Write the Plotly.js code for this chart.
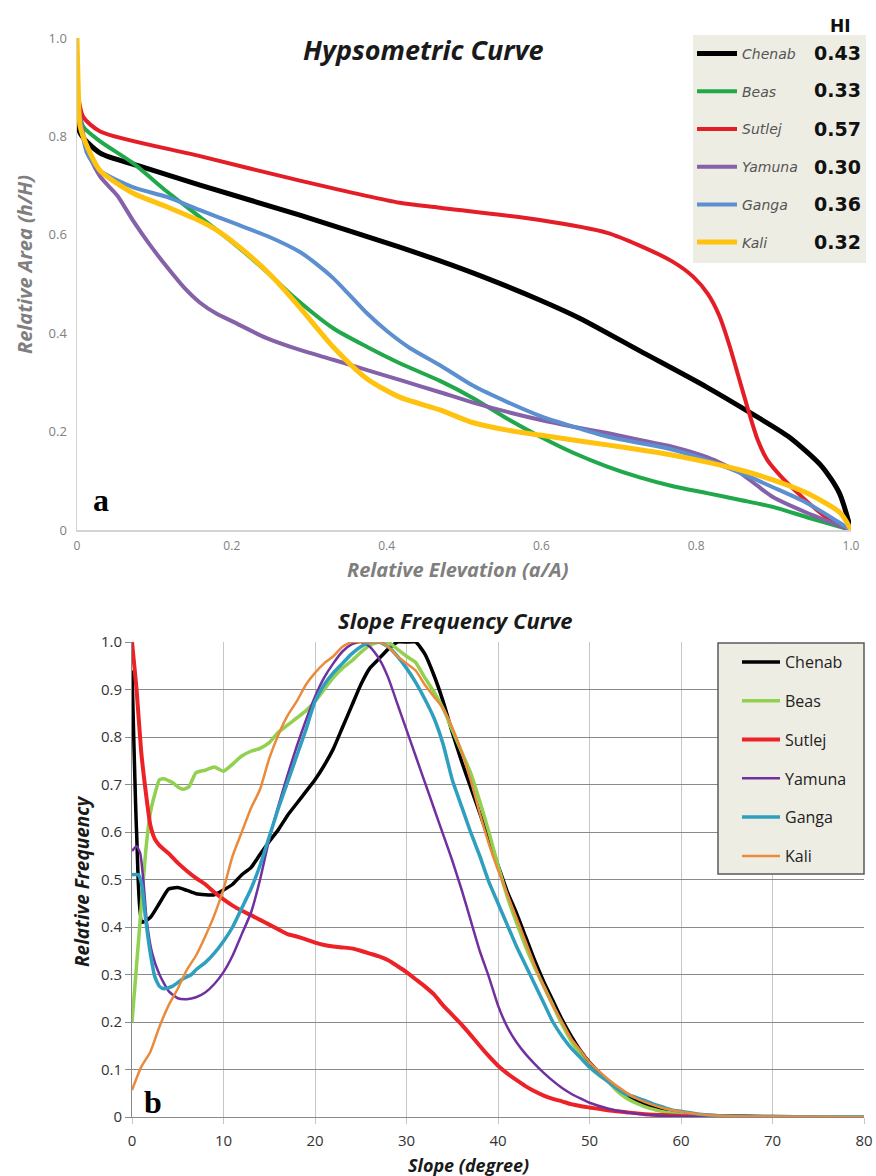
<!DOCTYPE html>
<html><head><meta charset="utf-8">
<script src="https://cdn.plot.ly/plotly-3.0.1.min.js"></script>
<style>html,body{margin:0;padding:0;background:#fff}#chart{width:876px;height:1176px}</style>
</head><body><div id="chart"></div>
<script>
// ---------- Panel a : Hypsometric curve ----------
const basinNames = ['Chenab','Beas','Sutlej','Yamuna','Ganga','Kali'];
const hiValues = ['0.43','0.33','0.57','0.30','0.36','0.32'];
const hypsoColors = ['#000000','#21A84A','#E31E26','#8461A8','#5B8FD0','#FFC20E'];

const chenabHx = [0,0.004,0.03,0.08,0.159,0.288,0.417,0.469,0.524,0.597,0.65,0.726,0.813,0.868,0.92,0.963,0.985,1.0];
const chenabHy = [0.88,0.807,0.766,0.74,0.701,0.64,0.575,0.547,0.515,0.468,0.43,0.365,0.291,0.24,0.189,0.128,0.075,0.0];

const beasHx = [0,0.008,0.03,0.072,0.116,0.159,0.202,0.245,0.279,0.331,0.375,0.417,0.469,0.512,0.556,0.598,0.641,0.685,0.727,0.77,0.814,0.857,0.899,0.943,1.0];
const beasHy = [0.88,0.82,0.79,0.746,0.688,0.636,0.583,0.525,0.475,0.41,0.372,0.339,0.303,0.268,0.226,0.19,0.157,0.129,0.107,0.089,0.075,0.061,0.047,0.026,0];

const sutlejHx = [0,0.008,0.03,0.159,0.288,0.417,0.469,0.598,0.685,0.727,0.77,0.796,0.815,0.83,0.843,0.855,0.867,0.879,0.892,0.91,0.93,0.955,0.98,1.0];
const sutlejHy = [0.9,0.84,0.81,0.76,0.71,0.665,0.655,0.63,0.604,0.578,0.545,0.515,0.48,0.435,0.375,0.31,0.245,0.185,0.142,0.108,0.077,0.042,0.013,0];

const yamunaHx = [0,0.013,0.03,0.052,0.072,0.094,0.116,0.14,0.159,0.18,0.202,0.245,0.288,0.331,0.375,0.417,0.469,0.512,0.556,0.598,0.641,0.685,0.727,0.77,0.814,0.857,0.879,0.899,0.943,1.0];
const yamunaHy = [0.88,0.772,0.718,0.68,0.63,0.58,0.535,0.49,0.462,0.44,0.423,0.39,0.366,0.346,0.325,0.305,0.28,0.259,0.24,0.224,0.21,0.197,0.183,0.169,0.148,0.116,0.09,0.067,0.035,0];

const gangaHx = [0,0.013,0.03,0.072,0.116,0.159,0.202,0.245,0.288,0.31,0.331,0.352,0.375,0.4,0.43,0.469,0.512,0.556,0.598,0.641,0.685,0.727,0.77,0.814,0.857,0.899,0.943,1.0];
const gangaHy = [0.88,0.766,0.73,0.697,0.677,0.65,0.624,0.598,0.565,0.54,0.512,0.478,0.44,0.405,0.37,0.335,0.293,0.26,0.232,0.21,0.19,0.177,0.163,0.142,0.116,0.087,0.055,0];

const kaliHx = [0,0.002,0.004,0.017,0.03,0.072,0.116,0.159,0.18,0.202,0.225,0.252,0.288,0.331,0.375,0.417,0.469,0.512,0.556,0.598,0.641,0.685,0.727,0.77,0.814,0.857,0.899,0.943,0.986,1.0];
const kaliHy = [1.0,0.88,0.82,0.766,0.73,0.685,0.657,0.628,0.61,0.585,0.555,0.515,0.452,0.372,0.307,0.27,0.244,0.218,0.203,0.193,0.183,0.173,0.163,0.152,0.138,0.122,0.102,0.075,0.035,0];

const hypsoTickVals = [0,0.2,0.4,0.6,0.8,1.0];
const hypsoTickText = ['0','0.2','0.4','0.6','0.8','1.0'];

// ---------- Panel b : Slope frequency curve ----------
const slopeColors = ['#000000','#92D050','#EC2227','#7030A0','#2F9FBF','#E98A3C'];

const chenabSx = [0,0.5,1.1,2,3,4,5,6,7,8,9,10,11,12,13,14,15,16,17,18,19,20,21,22,23,24,25,26,27,28,29,30,31,32,33,34,35,36,37,38,39,40,41,42,43,44,45,46,47,48,49,50,51,52,53,54,55,56,57,58,60,62,65,70,75];
const chenabSy = [0.94,0.6,0.41,0.42,0.45,0.48,0.483,0.477,0.47,0.468,0.468,0.478,0.49,0.51,0.525,0.553,0.58,0.605,0.635,0.66,0.685,0.71,0.74,0.775,0.82,0.865,0.91,0.945,0.965,0.985,1.0,1.0,1.0,0.975,0.93,0.875,0.81,0.75,0.695,0.64,0.585,0.53,0.475,0.43,0.38,0.33,0.285,0.245,0.205,0.17,0.14,0.115,0.095,0.077,0.062,0.048,0.037,0.028,0.02,0.014,0.007,0.004,0.002,0.001,0];

const beasSx = [0,0.5,1,1.5,2,2.5,3,3.5,4,4.5,5,5.6,6.2,7,8,9,10,11,12,13,14,15,16,17,18,19,20,21,22,23,24,25,26,27,28,29,30,31,32,33,34,35,36,37,38,39,40,41,42,43,44,45,46,47,48,49,50,51,52,53,54,55,56,57,58,60,62,65,70,80];
const beasSy = [0.2,0.32,0.44,0.56,0.64,0.68,0.71,0.712,0.708,0.703,0.695,0.69,0.695,0.725,0.73,0.737,0.728,0.743,0.76,0.77,0.776,0.788,0.81,0.825,0.84,0.855,0.875,0.9,0.925,0.945,0.96,0.978,0.993,1.0,1.0,0.985,0.97,0.957,0.925,0.895,0.86,0.815,0.77,0.725,0.665,0.6,0.53,0.465,0.41,0.36,0.315,0.275,0.235,0.195,0.16,0.13,0.105,0.088,0.075,0.055,0.04,0.03,0.022,0.016,0.011,0.006,0.003,0.001,0,0];

const sutlejSx = [0,0.5,1,1.5,2,2.5,3,4,5,6,7,8,9,10,11,12,13,14,15,16,17,18,19,20,21,22,23,24,25,26,27,28,29,30,31,32,33,34,35,36,37,38,39,40,41,42,43,44,45,46,47,48,49,50,52,54,56,58,60,65];
const sutlejSy = [1.0,0.9,0.77,0.685,0.615,0.585,0.572,0.555,0.535,0.518,0.503,0.49,0.473,0.458,0.445,0.434,0.425,0.415,0.405,0.395,0.385,0.38,0.374,0.367,0.362,0.359,0.357,0.355,0.35,0.344,0.338,0.33,0.318,0.305,0.29,0.275,0.258,0.235,0.215,0.195,0.173,0.15,0.128,0.108,0.092,0.078,0.065,0.054,0.045,0.038,0.033,0.027,0.023,0.02,0.014,0.01,0.006,0.004,0.002,0];

const yamunaSx = [0,0.5,0.9,1.3,1.6,2.2,3,4,5,6,7,8,9,10,11,12,13,14,15,16,17,18,19,20,21,22,23,24,25,26,27,28,29,30,31,32,33,34,35,36,37,38,39,40,41,42,43,44,45,46,47,48,49,50,52,54,56,60,65];
const yamunaSy = [0.56,0.57,0.555,0.485,0.415,0.345,0.3,0.265,0.25,0.248,0.252,0.262,0.28,0.305,0.34,0.385,0.43,0.5,0.585,0.655,0.72,0.78,0.835,0.885,0.925,0.955,0.98,0.995,1.0,0.99,0.965,0.925,0.87,0.815,0.76,0.705,0.65,0.595,0.54,0.48,0.415,0.35,0.295,0.235,0.19,0.158,0.133,0.112,0.093,0.076,0.061,0.049,0.039,0.03,0.018,0.01,0.005,0.001,0];

const gangaSx = [0,0.7,1.1,1.5,2,2.5,3,3.5,4.4,5.5,6.5,7,8,9,10,11,12,13,14,15,16,17,18,19,20,21,22,23,24,25,26,27,28,29,30,31,32,33,34,35,36,37,38,39,40,41,42,43,44,45,46,47,48,49,50,51,52,53,54,55,56,57,58,59,60,62,65,70,80];
const gangaSy = [0.51,0.51,0.485,0.415,0.345,0.295,0.275,0.27,0.275,0.29,0.3,0.31,0.325,0.345,0.37,0.4,0.44,0.48,0.53,0.59,0.65,0.705,0.76,0.815,0.875,0.91,0.935,0.955,0.975,0.99,1.0,1.0,0.99,0.97,0.945,0.915,0.88,0.84,0.785,0.71,0.655,0.6,0.55,0.495,0.45,0.405,0.36,0.32,0.28,0.24,0.2,0.17,0.145,0.125,0.105,0.09,0.075,0.06,0.048,0.042,0.035,0.027,0.021,0.015,0.012,0.006,0.002,0,0];

const kaliSx = [0,1,2,3,4,5,6,7,8,9,10,11,12,13,14,15,16,17,18,19,20,21,22,23,24,25,26,27,28,29,30,31,32,33,34,35,36,37,38,39,40,41,42,43,44,45,46,47,48,49,50,51,52,53,54,55,56,57,58,60,62,65,70,80];
const kaliSy = [0.057,0.105,0.137,0.19,0.235,0.27,0.31,0.34,0.38,0.425,0.48,0.55,0.6,0.65,0.69,0.755,0.805,0.845,0.875,0.91,0.935,0.955,0.97,0.99,1.0,1.0,1.0,1.0,0.99,0.97,0.955,0.94,0.91,0.885,0.86,0.82,0.77,0.71,0.64,0.575,0.52,0.47,0.42,0.37,0.32,0.275,0.235,0.2,0.165,0.14,0.115,0.097,0.08,0.065,0.052,0.04,0.032,0.025,0.019,0.011,0.006,0.002,0.001,0];

const slopeTickVals = [0,0.1,0.2,0.3,0.4,0.5,0.6,0.7,0.8,0.9,1.0];
const slopeTickText = ['0','0.1','0.2','0.3','0.4','0.5','0.6','0.7','0.8','0.9','1.0'];

// ---------- build ----------
const W = 876, H = 1176;
const px = v => v / W;
const py = v => 1 - v / H;

const hypsoX = [chenabHx, beasHx, sutlejHx, yamunaHx, gangaHx, kaliHx];
const hypsoY = [chenabHy, beasHy, sutlejHy, yamunaHy, gangaHy, kaliHy];
const slopeX = [chenabSx, beasSx, sutlejSx, yamunaSx, gangaSx, kaliSx];
const slopeY = [chenabSy, beasSy, sutlejSy, yamunaSy, gangaSy, kaliSy];
const hypsoWidths = [5, 4, 4, 4, 4, 5];
const slopeWidths = [3.5, 3.5, 4, 2.5, 3.5, 2.5];

const traces = [];
basinNames.forEach((n, i) => {
  traces.push({
    type: 'scatter', mode: 'lines', x: hypsoX[i], y: hypsoY[i], name: n,
    xaxis: 'x', yaxis: 'y', legend: 'legend', legendgroup: 'a' + n,
    line: {color: hypsoColors[i], width: hypsoWidths[i], shape: 'spline', smoothing: 0.7}
  });
});
basinNames.forEach((n, i) => {
  traces.push({
    type: 'scatter', mode: 'lines', x: slopeX[i], y: slopeY[i], name: n,
    xaxis: 'x2', yaxis: 'y2', legend: 'legend2', legendgroup: 'b' + n,
    line: {color: slopeColors[i], width: slopeWidths[i], shape: 'spline', smoothing: 0.5}
  });
});

const annotations = [
  {text: '<b><i>Hypsometric Curve</i></b>', x: px(423), y: py(50), xref: 'paper', yref: 'paper',
   showarrow: false, xanchor: 'center', yanchor: 'middle', font: {family: 'Open Sans', size: 27, color: '#1a1a1a'}},
  {text: '<b><i>Relative Elevation (a/A)</i></b>', x: px(458), y: py(569), xref: 'paper', yref: 'paper',
   showarrow: false, xanchor: 'center', yanchor: 'middle', font: {family: 'Open Sans', size: 20, color: '#7f7f7f'}},
  {text: '<b><i>Relative Area (h/H)</i></b>', x: px(24), y: py(265), xref: 'paper', yref: 'paper', textangle: -90,
   showarrow: false, xanchor: 'center', yanchor: 'middle', font: {family: 'Open Sans', size: 20, color: '#7f7f7f'}},
  {text: '<b>a</b>', x: px(101), y: py(500), xref: 'paper', yref: 'paper',
   showarrow: false, xanchor: 'center', yanchor: 'middle', font: {family: 'Liberation Serif', size: 32, color: '#000'}},
  {text: '<b>HI</b>', x: px(840), y: py(26), xref: 'paper', yref: 'paper',
   showarrow: false, xanchor: 'center', yanchor: 'middle', font: {family: 'DejaVu Sans', size: 17, color: '#111'}},
  {text: '<b><i>Slope Frequency Curve</i></b>', x: px(455), y: py(620), xref: 'paper', yref: 'paper',
   showarrow: false, xanchor: 'center', yanchor: 'middle', font: {family: 'Open Sans', size: 22, color: '#1a1a1a'}},
  {text: '<b><i>Slope (degree)</i></b>', x: px(469), y: py(1165), xref: 'paper', yref: 'paper',
   showarrow: false, xanchor: 'center', yanchor: 'middle', font: {family: 'Open Sans', size: 18, color: '#1a1a1a'}},
  {text: '<b><i>Relative Frequency</i></b>', x: px(82), y: py(882), xref: 'paper', yref: 'paper', textangle: -90,
   showarrow: false, xanchor: 'center', yanchor: 'middle', font: {family: 'Open Sans', size: 19, color: '#1a1a1a'}},
  {text: '<b>b</b>', x: px(153), y: py(1102), xref: 'paper', yref: 'paper',
   showarrow: false, xanchor: 'center', yanchor: 'middle', font: {family: 'Liberation Serif', size: 32, color: '#000'}}
];
const hiRows = [53, 90, 129, 167, 204, 242];
hiValues.forEach((v, i) => {
  annotations.push({text: '<b>' + v + '</b>', x: px(863), y: py(hiRows[i]), xref: 'paper', yref: 'paper',
    showarrow: false, xanchor: 'right', yanchor: 'middle', font: {family: 'DejaVu Sans', size: 19, color: '#111'}});
});

const layout = {
  width: W, height: H,
  margin: {l: 0, r: 0, t: 0, b: 0},
  paper_bgcolor: '#ffffff', plot_bgcolor: 'rgba(0,0,0,0)',
  showlegend: true,
  xaxis: {domain: [px(77), px(851)], range: [0, 1], anchor: 'y', showgrid: false, zeroline: false,
    showline: true, linecolor: '#d4d4d4', linewidth: 1.5, tickvals: hypsoTickVals, ticktext: hypsoTickText,
    ticks: 'outside', ticklen: 4, tickcolor: 'rgba(0,0,0,0)',
    tickfont: {family: 'Open Sans', size: 12, color: '#808080'}, fixedrange: true},
  yaxis: {domain: [1 - 530 / H, 1 - 38 / H], range: [0, 1], anchor: 'x', showgrid: false, zeroline: false,
    showline: true, linecolor: '#d4d4d4', linewidth: 1.5, tickvals: hypsoTickVals, ticktext: hypsoTickText,
    ticks: 'outside', ticklen: 6, tickcolor: 'rgba(0,0,0,0)',
    tickfont: {family: 'Open Sans', size: 13, color: '#808080'}, fixedrange: true},
  xaxis2: {domain: [px(132), px(864)], range: [0, 80], anchor: 'y2', dtick: 10, tick0: 0,
    showgrid: true, gridcolor: '#c6c6c6', gridwidth: 1, zeroline: false,
    showline: true, linecolor: '#8a8a8a', linewidth: 1, ticks: 'outside', ticklen: 6, tickcolor: '#c6c6c6',
    ticklabelstandoff: 4,
    tickfont: {family: 'Open Sans', size: 15, color: '#333'}, fixedrange: true},
  yaxis2: {domain: [1 - 1117 / H, 1 - 642 / H], range: [0, 1], anchor: 'x2',
    tickvals: slopeTickVals, ticktext: slopeTickText,
    showgrid: true, gridcolor: '#8a8a8a', gridwidth: 1, zeroline: false,
    showline: true, linecolor: '#8a8a8a', linewidth: 1, ticks: 'outside', ticklen: 6, tickcolor: '#8a8a8a',
    tickfont: {family: 'Open Sans', size: 15, color: '#333'}, fixedrange: true},
  legend: {x: px(692), y: py(38), xanchor: 'left', yanchor: 'top', bgcolor: 'rgba(0,0,0,0)', borderwidth: 0,
    traceorder: 'grouped', tracegroupgap: 16.5, itemwidth: 40,
    font: {family: 'DejaVu Sans', size: 14, color: '#555', style: 'italic'}},
  legend2: {x: px(737), y: py(645), xanchor: 'left', yanchor: 'top', bgcolor: 'rgba(0,0,0,0)', borderwidth: 0,
    traceorder: 'grouped', tracegroupgap: 15, itemwidth: 38,
    font: {family: 'Open Sans', size: 16, color: '#222'}},
  shapes: [
    {type: 'rect', xref: 'paper', yref: 'paper', x0: px(693), x1: px(866), y0: py(263), y1: py(35),
     fillcolor: '#EEEDE4', line: {width: 0}, layer: 'below'},
    {type: 'rect', xref: 'paper', yref: 'paper', x0: px(718), x1: px(864), y0: py(874), y1: py(643),
     fillcolor: '#EEEDE4', line: {width: 1.5, color: '#595959'}, layer: 'above'}
  ],
  annotations: annotations
};

Plotly.newPlot('chart', traces, layout, {staticPlot: true, displayModeBar: false});
</script>
</body></html>
